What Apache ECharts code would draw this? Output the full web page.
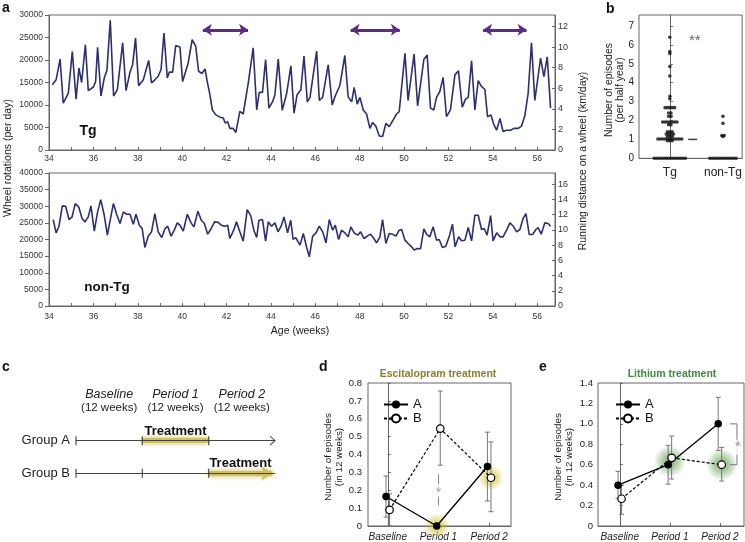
<!DOCTYPE html>
<html><head><meta charset="utf-8">
<script src="https://cdn.jsdelivr.net/npm/echarts@6/dist/echarts.min.js"></script>
<style>html,body{margin:0;padding:0;background:#fff}#c{width:745px;height:542px}</style>
</head><body><div id="c"></div>
<script>
// ---------- DATA ----------
// Panel a: wheel rotations per day (Tg / non-Tg)
const tgWeeks = [34.15,34.32,34.50,34.64,34.87,35.05,35.22,35.35,35.47,35.64,35.77,36.00,36.10,36.19,36.34,36.49,36.61,36.76,36.91,37.08,37.32,37.47,37.65,37.77,37.90,38.04,38.25,38.49,38.62,38.77,38.92,39.05,39.18,39.33,39.42,39.57,39.71,39.90,40.02,40.27,40.45,40.61,40.74,40.89,41.03,41.13,41.25,41.36,41.52,41.70,41.85,41.94,42.05,42.15,42.30,42.42,42.60,42.75,42.98,43.20,43.36,43.47,43.62,43.76,43.91,44.08,44.18,44.33,44.51,44.71,44.90,45.04,45.18,45.35,45.49,45.64,45.76,46.06,46.18,46.33,46.58,46.76,46.88,47.11,47.33,47.48,47.64,47.75,47.89,48.01,48.16,48.31,48.46,48.58,48.73,48.88,49.03,49.18,49.33,49.51,49.66,49.78,50.04,50.18,50.45,50.61,50.89,51.04,51.19,51.34,51.46,51.61,51.76,51.91,52.09,52.29,52.45,52.62,52.77,52.89,53.04,53.19,53.34,53.49,53.64,53.76,53.91,54.05,54.17,54.32,54.46,54.62,54.80,54.95,55.14,55.29,55.44,55.59,55.74,55.89,56.15,56.30,56.45,56.60];
const tgRotations = [14500,15600,20200,10400,12600,21900,11300,18200,15000,23400,13200,14000,15200,22800,12000,16000,17700,28800,12000,13400,23800,13200,17300,19000,24900,14300,15600,19900,14900,15600,16400,17900,26000,16000,17300,17300,23200,22900,15200,19300,24500,23100,17500,17000,18000,15200,12300,8900,7800,7300,7100,6000,6300,4800,4800,3900,8600,8000,14900,22700,8900,12800,12800,20100,9300,10800,12300,20200,8800,12600,18700,8200,12300,13400,20900,10700,11700,22000,11000,11700,18900,10000,11800,14400,21000,11800,10700,13900,10200,11700,8900,8000,4800,6100,5300,3100,3000,5900,5200,6700,8000,8500,21500,11000,21300,9800,20100,21100,9300,8900,11700,13000,16100,7400,8900,16700,17600,9500,11300,11700,19800,8900,15400,14100,13500,7400,7800,5600,4400,7000,4100,4400,4400,4800,4800,5300,7600,12600,23800,11000,20400,16300,20700,9300];
const ntWeeks = [34.19,34.32,34.45,34.60,34.75,34.90,35.04,35.18,35.34,35.49,35.62,35.77,35.89,36.04,36.19,36.33,36.48,36.63,36.90,37.05,37.20,37.35,37.50,37.65,37.80,37.92,38.07,38.20,38.32,38.47,38.62,38.77,38.92,39.08,39.23,39.35,39.50,39.63,39.78,39.90,40.05,40.23,40.40,40.53,40.71,40.86,41.00,41.15,41.28,41.46,41.61,41.76,41.91,42.05,42.15,42.32,42.45,42.60,42.75,42.93,43.09,43.23,43.36,43.46,43.62,43.76,43.88,44.03,44.18,44.32,44.46,44.59,44.75,44.89,45.00,45.11,45.31,45.46,45.61,45.73,45.88,46.03,46.18,46.33,46.48,46.63,46.78,46.90,47.05,47.18,47.33,47.48,47.60,47.75,47.91,48.04,48.19,48.34,48.49,48.64,48.76,48.91,49.03,49.18,49.33,49.48,49.63,49.78,49.89,50.04,50.18,50.34,50.45,50.59,50.74,50.89,51.01,51.16,51.31,51.46,51.58,51.73,51.88,52.03,52.18,52.30,52.46,52.59,52.74,52.89,53.04,53.19,53.34,53.49,53.61,53.74,53.90,54.01,54.17,54.32,54.46,54.62,54.77,54.92,55.07,55.22,55.36,55.49,55.64,55.79,55.94,56.04,56.18,56.34,56.49,56.60];
const ntRotations = [26000,22000,24000,30100,30000,26000,26800,30800,29800,26300,25300,26800,30100,22500,28300,32000,27600,21300,30800,27500,24800,28300,27600,27600,24600,27600,24300,23300,17600,21000,22300,27800,22300,20600,23300,24000,21000,22600,25000,24300,22500,27600,25000,23800,28500,25800,24800,21600,23000,25300,25200,24300,24000,24300,20300,22800,25300,22300,19500,29000,27200,22800,20600,25800,26000,19500,25300,24000,25000,22300,24000,26800,22000,25800,20000,20600,18300,21800,17600,14800,21000,22000,24000,22300,19000,26000,22800,24300,20000,22800,22000,20800,23800,22000,21300,22300,20300,21000,21600,20300,19000,20800,26000,18800,21800,21600,21000,22800,23000,19800,18800,17800,16800,17300,17200,23200,21600,20800,23800,19800,20000,17600,18000,20800,24600,17800,20800,19600,19800,23600,19600,27300,27300,23000,23300,21300,27200,19600,22000,20800,20800,22800,25000,24000,22300,23000,26300,27800,21500,21500,23000,23600,21600,25000,24800,24000];
// purple double arrows (episodes) in weeks
const arrowStarts = [40.93, 47.59, 53.56];
const arrowEnds   = [42.97, 49.81, 55.52];
const arrowLevel = 26700;
const kmPerRotation = 0.000437;

// Panel b: number of episodes per half year
const tgEpisodes = [6.4,5.65,5.55,4.85,4.35,3.28,3.15,2.68,2.68,2.68,2.68,2.68,2.4,2.4,2.22,2.22,1.92,1.92,1.92,1.92,1.92,1.92,1.92,1.78,1.78,1.4,1.4,1.4,1.28,1.28,1.28,1.28,1.15,1.15,1.15,1.02,1.02,1.02,1.02,1.02,1.02,1.02,1.02,1.02,1.02,1.02,0.93,0.93,0.93,0,0,0,0,0,0,0,0,0,0,0,0,0,0];
const ntEpisodes = [2.22,1.85,1.2,1.2,1.15,0,0,0,0,0,0,0,0,0,0,0,0];
const tgMean = 1.0;
const groupNames = ['Tg','non-Tg'];

// Panel c: design
const periodNames = ['Baseline','Period 1','Period 2'];
const periodLength = ['(12 weeks)','(12 weeks)','(12 weeks)'];
const periodBounds = [0, 12, 24, 36];

// Panel d: escitalopram
const escA = [0.165, 0.0, 0.333], escALow = [0.05, 0.0, 0.14], escAHigh = [0.28, 0.0, 0.525];
const escB = [0.09, 0.545, 0.27], escBLow = [0.0, 0.34, 0.08], escBHigh = [0.18, 0.755, 0.47];
// Panel e: lithium
const liA = [0.4, 0.6, 1.0], liALow = [0.27, 0.41, 0.74], liAHigh = [0.535, 0.79, 1.26];
const liB = [0.267, 0.667, 0.6], liBLow = [0.115, 0.46, 0.44], liBHigh = [0.4, 0.88, 0.77];

// ---------- CHART ----------
const FONT = '"Liberation Sans", Arial, Helvetica, sans-serif';
const chart = echarts.init(document.getElementById('c'), null, {renderer:'canvas'});
const AX = '#666', LBL = '#333';

function pairs(xs, ys){ return xs.map((x,i)=>[x, ys[i]]); }
function swarm(vals, center, step){
  const groups = {};
  vals.forEach(v=>{ const k = Math.round(v*20)/20; (groups[k]=groups[k]||[]).push(v); });
  const out = [];
  Object.keys(groups).forEach(k=>{ const g = groups[k]; const n = g.length;
    g.forEach((v,i)=>out.push([center + (i-(n-1)/2)*step, v])); });
  return out;
}
const offA = -0.035, offB = 0.035;
function pts(vals, off){ return vals.map((v,i)=>[i+off, v]); }
function errs(lo, hi, off){ return lo.map((l,i)=>[i+off, l, hi[i]]).filter(d=>d[2]>d[1]); }
function errRender(params, api){
  const x = api.value(0), p1 = api.coord([x, api.value(1)]), p2 = api.coord([x, api.value(2)]);
  const c = 2.5, st = {stroke:'#777', lineWidth:1};
  return {type:'group', children:[
    {type:'line', shape:{x1:p1[0],y1:p1[1],x2:p2[0],y2:p2[1]}, style:st},
    {type:'line', shape:{x1:p1[0]-c,y1:p1[1],x2:p1[0]+c,y2:p1[1]}, style:st},
    {type:'line', shape:{x1:p2[0]-c,y1:p2[1],x2:p2[0]+c,y2:p2[1]}, style:st}]};
}
function glow(rgb){ return {type:'radial', x:0.5, y:0.5, r:0.5, colorStops:[
  {offset:0, color:'rgba('+rgb+',0.95)'},{offset:0.45, color:'rgba('+rgb+',0.6)'},{offset:1, color:'rgba('+rgb+',0)'}]}; }
const yFmt1 = v => v===0 ? '0' : v.toFixed(1);
const plain = v => String(v);

const baseAxis = {axisLine:{show:true, lineStyle:{color:AX}}, splitLine:{show:false}};

const option = {
  animation:false,
  textStyle:{fontFamily:FONT},
  grid:[
    {left:49, top:15, width:506, height:135, show:true, borderColor:AX, borderWidth:1},
    {left:49, top:173, width:506, height:133, show:true, borderColor:AX, borderWidth:1},
    {left:639, top:15, width:104, height:143.3, show:true, borderColor:AX, borderWidth:1},
    {left:76, top:424.4, width:199, height:65.2, show:false},
    {left:368, top:383, width:143, height:143, show:true, borderColor:AX, borderWidth:1},
    {left:598, top:383, width:146, height:143, show:true, borderColor:AX, borderWidth:1}
  ],
  xAxis:[
    {gridIndex:0, type:'value', min:34, max:56.8, interval:1, ...baseAxis,
      axisTick:{inside:true, length:3, lineStyle:{color:AX}},
      axisLabel:{color:LBL, fontFamily:FONT, fontSize:8.5, margin:4, showMaxLabel:false, formatter:v=>v%2===0?String(v):''}},
    {gridIndex:1, type:'value', min:34, max:56.8, interval:1, ...baseAxis,
      axisTick:{inside:true, length:3, lineStyle:{color:AX}},
      axisLabel:{color:LBL, fontFamily:FONT, fontSize:8.5, margin:6, showMaxLabel:false, formatter:v=>v%2===0?String(v):''}},
    {gridIndex:2, type:'value', min:-0.58, max:1.36, ...baseAxis, axisTick:{show:false},
      axisLabel:{color:'#222', fontFamily:FONT, fontSize:12, margin:8, customValues:[0,1], formatter:v=>groupNames[Math.round(v)]}},
    {gridIndex:3, type:'value', min:0, max:36, interval:6, position:'top', axisLine:{show:false}, axisTick:{show:false}, splitLine:{show:false},
      axisLabel:{margin:11, formatter:v=>{const i=[6,18,30].indexOf(v); return i<0?'':'{it|'+periodNames[i]+'}\n{nm|'+periodLength[i]+'}';},
        rich:{it:{fontStyle:'italic', fontSize:12.5, lineHeight:13, color:'#222', fontFamily:FONT}, nm:{fontSize:11.5, lineHeight:12, color:'#222', fontFamily:FONT}}}},
    {gridIndex:4, type:'value', min:-0.39, max:2.43, ...baseAxis,
      axisTick:{inside:true, length:3, customValues:[0,1,2], lineStyle:{color:AX}},
      axisLabel:{color:'#222', fontFamily:FONT, fontSize:10, fontStyle:'italic', margin:6, customValues:[0,1,2], formatter:v=>periodNames[Math.round(v)]}},
    {gridIndex:5, type:'value', min:-0.435, max:2.48, ...baseAxis,
      axisTick:{inside:true, length:3, customValues:[0,1,2], lineStyle:{color:AX}},
      axisLabel:{color:'#222', fontFamily:FONT, fontSize:10, fontStyle:'italic', margin:6, customValues:[0,1,2], formatter:v=>periodNames[Math.round(v)]}}
  ],
  yAxis:[
    {gridIndex:0, type:'value', min:0, max:30000, interval:5000, ...baseAxis,
      axisTick:{inside:false, length:4, lineStyle:{color:AX}}, axisLabel:{color:LBL, fontFamily:FONT, fontSize:8.5, margin:6, formatter:plain}},
    {gridIndex:0, type:'value', position:'right', min:0, max:30000*kmPerRotation, interval:2, ...baseAxis,
      axisTick:{inside:true, length:3, lineStyle:{color:AX}}, axisLabel:{color:LBL, fontFamily:FONT, fontSize:9, margin:3, showMaxLabel:false, formatter:plain}},
    {gridIndex:1, type:'value', min:0, max:40000, interval:5000, ...baseAxis,
      axisTick:{inside:false, length:4, lineStyle:{color:AX}}, axisLabel:{color:LBL, fontFamily:FONT, fontSize:8.5, margin:6, formatter:plain}},
    {gridIndex:1, type:'value', position:'right', min:0, max:40000*kmPerRotation, interval:2, ...baseAxis,
      axisTick:{inside:true, length:3, lineStyle:{color:AX}}, axisLabel:{color:LBL, fontFamily:FONT, fontSize:9, margin:3, showMaxLabel:false, formatter:plain}},
    {gridIndex:2, type:'value', min:0, max:7.58, interval:1, ...baseAxis,
      axisTick:{inside:true, length:3, lineStyle:{color:AX}}, axisLabel:{color:'#222', fontFamily:FONT, fontSize:10, margin:5, showMaxLabel:false}},
    {gridIndex:3, type:'value', min:0, max:2, interval:0.5, axisLine:{show:false}, axisTick:{show:false}, splitLine:{show:false},
      axisLabel:{color:'#222', fontFamily:FONT, fontSize:13, margin:6, formatter:v=>v===1.5?'Group A':(v===0.5?'Group B':'')}},
    {gridIndex:4, type:'value', min:0, max:0.8, interval:0.1, ...baseAxis,
      axisTick:{inside:true, length:3, lineStyle:{color:AX}}, axisLabel:{color:'#222', fontFamily:FONT, fontSize:9.5, margin:6, formatter:yFmt1}},
    {gridIndex:5, type:'value', min:0, max:1.4, interval:0.2, ...baseAxis,
      axisTick:{inside:true, length:3, lineStyle:{color:AX}}, axisLabel:{color:'#222', fontFamily:FONT, fontSize:9.5, margin:5, formatter:yFmt1}}
  ],
  legend:[
    {data:['A','B'], left:378, top:393, orient:'vertical', itemWidth:24, itemHeight:10, itemGap:1, selectedMode:false,
      textStyle:{fontSize:13, color:'#111', fontFamily:FONT}},
    {data:['A','B'], left:610, top:393, orient:'vertical', itemWidth:24, itemHeight:10, itemGap:1, selectedMode:false,
      textStyle:{fontSize:13, color:'#111', fontFamily:FONT}}
  ],
  series:[
    // panel a
    {type:'line', xAxisIndex:0, yAxisIndex:0, data:pairs(tgWeeks, tgRotations), showSymbol:false, symbol:'none',
      lineStyle:{color:'#2c2f70', width:1.6}, z:3,
      markLine:{silent:true, symbol:['arrow','arrow'], symbolSize:9, label:{show:false},
        lineStyle:{color:'#5a2d82', width:3, type:'solid'},
        data:arrowStarts.map((s,i)=>[{coord:[s, arrowLevel]},{coord:[arrowEnds[i], arrowLevel]}])}},
    {type:'line', xAxisIndex:1, yAxisIndex:2, data:pairs(ntWeeks, ntRotations), showSymbol:false, symbol:'none',
      lineStyle:{color:'#2c2f70', width:1.6}, z:3},
    // panel b
    {type:'scatter', xAxisIndex:2, yAxisIndex:4, data:swarm(tgEpisodes, 0, 0.045), symbolSize:3.6, itemStyle:{color:'#111'}},
    {type:'scatter', xAxisIndex:2, yAxisIndex:4, data:swarm(ntEpisodes, 1, 0.045), symbolSize:3.6, itemStyle:{color:'#111'}},
    {type:'scatter', xAxisIndex:2, yAxisIndex:4, data:[[0.43, tgMean]], symbol:'rect', symbolSize:[9,1.5], itemStyle:{color:'#111'}},
    {type:'scatter', xAxisIndex:2, yAxisIndex:4, data:[[0.47, 6.2]], symbolSize:1, itemStyle:{color:'rgba(0,0,0,0)'},
      label:{show:true, position:'inside', formatter:'**', fontSize:15, color:'#444', fontFamily:FONT}},
    // panel c
    {type:'lines', coordinateSystem:'cartesian2d', xAxisIndex:3, yAxisIndex:5, z:2,
      lineStyle:{color:'#cfc05a', width:5, opacity:1, shadowBlur:5, shadowColor:'rgba(190,170,30,0.8)'},
      data:[{coords:[[periodBounds[1],1.5],[periodBounds[2],1.5]]}],
      label:{show:true, position:'middle', formatter:'Treatment', fontWeight:'bold', fontSize:13, color:'#111', distance:3, fontFamily:FONT}},
    {type:'lines', coordinateSystem:'cartesian2d', xAxisIndex:3, yAxisIndex:5, z:2, symbol:['none','arrow'], symbolSize:11,
      lineStyle:{color:'#cfc05a', width:5, opacity:1, shadowBlur:5, shadowColor:'rgba(190,170,30,0.8)'},
      data:[{coords:[[periodBounds[2],0.5],[periodBounds[3]-0.5,0.5]]}],
      label:{show:true, position:'middle', formatter:'Treatment', fontWeight:'bold', fontSize:13, color:'#111', distance:3, fontFamily:FONT}},
    {type:'lines', coordinateSystem:'cartesian2d', xAxisIndex:3, yAxisIndex:5, z:3,
      lineStyle:{color:'#444', width:1, opacity:1},
      data:[{coords:[[periodBounds[0],1.5],[periodBounds[3],1.5]]},{coords:[[periodBounds[0],0.5],[periodBounds[3],0.5]]}]},
    {type:'scatter', xAxisIndex:3, yAxisIndex:5, z:4, symbol:'rect', symbolSize:[1.3,9], itemStyle:{color:'#333'},
      data:periodBounds.slice(0,3).flatMap(b=>[[b,1.5],[b,0.5]])},
    {type:'scatter', xAxisIndex:3, yAxisIndex:5, z:4, symbol:'path://M0,0L6,5L0,10', symbolSize:[5,9], symbolOffset:[-2.5,0],
      itemStyle:{color:'rgba(0,0,0,0)', borderColor:'#333', borderWidth:1}, data:[[periodBounds[3],1.5]]},
    // panel d
    {type:'scatter', xAxisIndex:4, yAxisIndex:6, z:1, symbolSize:26, itemStyle:{color:glow('200,186,30')},
      data:[[1+offA, escA[1]],[2+offB, escB[2]]]},
    {type:'custom', xAxisIndex:4, yAxisIndex:6, z:2, renderItem:errRender, encode:{x:0,y:[1,2]}, data:errs(escALow, escAHigh, offA)},
    {type:'custom', xAxisIndex:4, yAxisIndex:6, z:2, renderItem:errRender, encode:{x:0,y:[1,2]}, data:errs(escBLow, escBHigh, offB)},
    {name:'A', type:'line', xAxisIndex:4, yAxisIndex:6, z:4, data:pts(escA, offA), symbol:'circle', symbolSize:7.5,
      itemStyle:{color:'#000'}, lineStyle:{color:'#000', width:1.3}},
    {name:'B', type:'line', xAxisIndex:4, yAxisIndex:6, z:5, data:pts(escB, offB), symbol:'circle', symbolSize:7.5,
      itemStyle:{color:'#fff', borderColor:'#000', borderWidth:1.2}, lineStyle:{color:'#000', width:1.2, type:[3,2]}},
    {type:'line', xAxisIndex:4, yAxisIndex:6, z:3, symbol:'none', lineStyle:{color:'#888', width:1},
      data:[[1,0.29],[1,0.235],[1,'-'],[1,0.165],[1,0.115]]},
    {type:'scatter', xAxisIndex:4, yAxisIndex:6, z:3, symbolSize:1, itemStyle:{color:'rgba(0,0,0,0)'}, data:[[1,0.2]],
      label:{show:true, position:'inside', formatter:'*', fontSize:15, color:'#888', fontFamily:FONT, offset:[0,3]}},
    // panel e
    {type:'scatter', xAxisIndex:5, yAxisIndex:7, z:1, symbolSize:32, itemStyle:{color:glow('90,150,70')},
      data:[[1, (liA[1]+liB[1])/2],[2+offB, liB[2]]]},
    {type:'custom', xAxisIndex:5, yAxisIndex:7, z:2, renderItem:errRender, encode:{x:0,y:[1,2]}, data:errs(liALow, liAHigh, offA)},
    {type:'custom', xAxisIndex:5, yAxisIndex:7, z:2, renderItem:errRender, encode:{x:0,y:[1,2]}, data:errs(liBLow, liBHigh, offB)},
    {name:'A', type:'line', xAxisIndex:5, yAxisIndex:7, z:4, data:pts(liA, offA), symbol:'circle', symbolSize:7.5,
      itemStyle:{color:'#000'}, lineStyle:{color:'#000', width:1.3}},
    {name:'B', type:'line', xAxisIndex:5, yAxisIndex:7, z:5, data:pts(liB, offB), symbol:'circle', symbolSize:7.5,
      itemStyle:{color:'#fff', borderColor:'#000', borderWidth:1.2}, lineStyle:{color:'#000', width:1.2, type:[3,2]}},
    {type:'line', xAxisIndex:5, yAxisIndex:7, z:3, symbol:'none', lineStyle:{color:'#777', width:1},
      data:[[2.2, liA[2]],[2.34, liA[2]],[2.34, liB[2]],[2.2, liB[2]]]},
    {type:'scatter', xAxisIndex:5, yAxisIndex:7, z:4, symbolSize:1, itemStyle:{color:'rgba(0,0,0,0)'}, data:[[2.36, 0.8]],
      label:{show:true, position:'inside', formatter:'*', fontSize:15, color:'#777', fontFamily:FONT, backgroundColor:'#fff', padding:[0,1,0,1], offset:[0,3]}}
  ],
  graphic:[
    {type:'text', x:2, y:1, style:{text:'a', font:'bold 14px '+FONT, fill:'#111'}},
    {type:'text', x:606, y:2, style:{text:'b', font:'bold 14px '+FONT, fill:'#111'}},
    {type:'text', x:2, y:360, style:{text:'c', font:'bold 14px '+FONT, fill:'#111'}},
    {type:'text', x:319, y:360, style:{text:'d', font:'bold 14px '+FONT, fill:'#111'}},
    {type:'text', x:539, y:360, style:{text:'e', font:'bold 14px '+FONT, fill:'#111'}},
    {type:'text', x:88, y:131, style:{text:'Tg', font:'bold 14px '+FONT, fill:'#111', align:'center', verticalAlign:'middle'}},
    {type:'text', x:107, y:287, style:{text:'non-Tg', font:'bold 13.5px '+FONT, fill:'#111', align:'center', verticalAlign:'middle'}},
    {type:'text', x:300, y:331, style:{text:'Age (weeks)', font:'10.5px '+FONT, fill:'#222', align:'center', verticalAlign:'middle'}},
    {type:'text', x:8, y:158, rotation:Math.PI/2, style:{text:'Wheel rotations (per day)', font:'10.5px '+FONT, fill:'#222', align:'center', verticalAlign:'middle'}},
    {type:'text', x:583, y:161, rotation:Math.PI/2, style:{text:'Running distance on a wheel (km/day)', font:'10.5px '+FONT, fill:'#222', align:'center', verticalAlign:'middle'}},
    {type:'text', x:609, y:90, rotation:Math.PI/2, style:{text:'Number of episodes', font:'10.5px '+FONT, fill:'#222', align:'center', verticalAlign:'middle'}},
    {type:'text', x:620, y:90, rotation:Math.PI/2, style:{text:'(per half year)', font:'10.5px '+FONT, fill:'#222', align:'center', verticalAlign:'middle'}},
    {type:'text', x:328, y:457, rotation:Math.PI/2, style:{text:'Number of episodes', font:'9.8px '+FONT, fill:'#222', align:'center', verticalAlign:'middle'}},
    {type:'text', x:339, y:457, rotation:Math.PI/2, style:{text:'(in 12 weeks)', font:'9.8px '+FONT, fill:'#222', align:'center', verticalAlign:'middle'}},
    {type:'text', x:558, y:457, rotation:Math.PI/2, style:{text:'Number of episodes', font:'9.8px '+FONT, fill:'#222', align:'center', verticalAlign:'middle'}},
    {type:'text', x:569, y:457, rotation:Math.PI/2, style:{text:'(in 12 weeks)', font:'9.8px '+FONT, fill:'#222', align:'center', verticalAlign:'middle'}},
    {type:'text', x:438, y:374, style:{text:'Escitalopram treatment', font:'bold 10.5px '+FONT, fill:'#8c7e2c', align:'center', verticalAlign:'middle'}},
    {type:'text', x:672, y:374, style:{text:'Lithium treatment', font:'bold 10.5px '+FONT, fill:'#3d8c3d', align:'center', verticalAlign:'middle'}}
  ]
};
chart.setOption(option);
</script></body></html>
